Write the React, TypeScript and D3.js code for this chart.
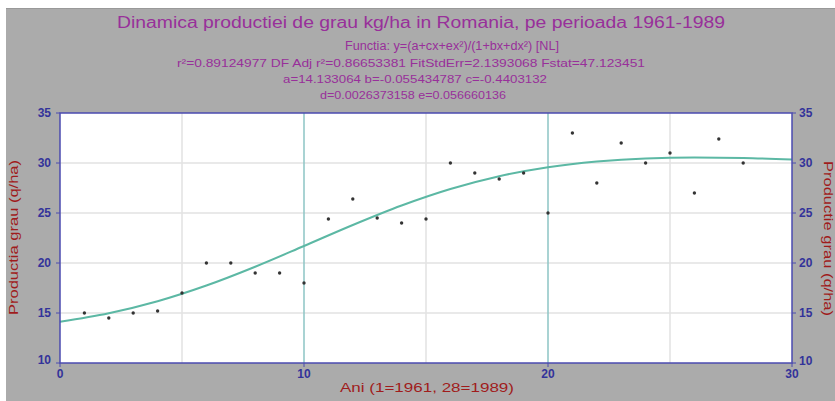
import React from "react";
import * as d3 from "d3";

// observed data (year index 1=1961 ... 28=1989), q/ha
const years = [1, 2, 3, 4, 5, 6, 7, 8, 9, 10, 11, 12, 13, 14, 15, 16, 17, 18, 19, 20, 21, 22, 23, 24, 25, 26, 27, 28];
const yields = [15.0, 14.5, 15.0, 15.2, 17.0, 20.0, 20.0, 19.0, 19.0, 18.0, 24.4, 26.4, 24.5, 24.0, 24.4, 30.0, 29.0, 28.4, 29.0, 25.0, 33.0, 28.0, 32.0, 30.0, 31.0, 27.0, 32.4, 30.0];

// fitted curve
const fitX = [0, 2, 4, 6, 8, 10, 12, 14, 16, 18, 20, 22, 24, 26, 28, 30];
const fitY = [14.13, 14.98, 16.18, 17.75, 19.63, 21.7, 23.8, 25.75, 27.4, 28.68, 29.58, 30.15, 30.46, 30.55, 30.5, 30.35];

const xTicks = [0, 10, 20, 30];
const xGrid = [5, 10, 15, 20, 25];
const yTicks = [10, 15, 20, 25, 30, 35];

const title = "Dinamica productiei de grau kg/ha in Romania, pe perioada 1961-1989";
const subLines = [
  "Functia:  y=(a+cx+ex²)/(1+bx+dx²) [NL]",
  "r²=0.89124977  DF Adj r²=0.86653381  FitStdErr=2.1393068  Fstat=47.123451",
  "a=14.133064 b=-0.055434787 c=-0.4403132",
  "d=0.0026373158 e=0.056660136",
];
// text layout (centre x, baseline y, stretched width, font size)
const subLayout = [
  { cx: 452, y: 50, len: 214, size: 12 },
  { cx: 411, y: 67, len: 468, size: 11 },
  { cx: 415, y: 83, len: 264, size: 11 },
  { cx: 413, y: 99, len: 186, size: 11 },
];

const W = 835;
const H = 401;
const margin = { top: 113, right: 43, bottom: 38, left: 60 };

export default function App() {
  const x = d3.scaleLinear().domain([0, 30]).range([margin.left, W - margin.right]);
  const y = d3.scaleLinear().domain([10, 35]).range([H - margin.bottom, margin.top]);

  const line = d3
    .line<number>()
    .x((_, i) => x(fitX[i]))
    .y((d) => y(d))
    .curve(d3.curveMonotoneX);

  const axisBlue = "#4b4bb0";
  const tickBlue = "#33339a";
  const red = "#a01c1c";
  const purple = "#98309a";
  const font = "Arial, 'Liberation Sans', sans-serif";
  const midY = (y(10) + y(35)) / 2;

  return (
    <svg width={W} height={H} style={{ position: "absolute", left: 0, top: 0 }} fontFamily={font}>
      <rect x={0} y={0} width={W} height={H} fill="#ffffff" />
      <rect x={6} y={8} width={W - 6} height={H - 8} fill="#ababab" />
      <line x1={6} x2={W} y1={8.5} y2={8.5} stroke="#999" />

      {/* titles */}
      <text x={117} y={28} fontSize={16} fill={purple} textLength={608} lengthAdjust="spacingAndGlyphs">
        {title}
      </text>
      {subLines.map((t, i) => {
        const l = subLayout[i];
        return (
          <text
            key={i}
            x={l.cx - l.len / 2}
            y={l.y}
            fontSize={l.size}
            fill={purple}
            textLength={l.len}
            lengthAdjust="spacingAndGlyphs"
          >
            {t}
          </text>
        );
      })}

      {/* plot area */}
      <rect x={x(0)} y={y(35)} width={x(30) - x(0)} height={y(10) - y(35)} fill="#ffffff" />
      {yTicks.slice(1, -1).map((t) => (
        <line key={t} x1={x(0)} x2={x(30)} y1={y(t)} y2={y(t)} stroke="#e2e2e2" strokeWidth={1.5} />
      ))}
      {xGrid.map((t) => (
        <line
          key={t}
          x1={x(t)}
          x2={x(t)}
          y1={y(10)}
          y2={y(35)}
          stroke={t % 10 === 0 ? "#8cc4c4" : "#e2e2e2"}
          strokeWidth={1.5}
        />
      ))}

      <path d={line(fitY) || ""} fill="none" stroke="#5cb8a4" strokeWidth={2} />

      {years.map((yr, i) => (
        <circle key={yr} cx={x(yr)} cy={y(yields[i])} r={1.7} fill="#333" />
      ))}

      {/* frame */}
      <rect x={x(0)} y={y(35)} width={x(30) - x(0)} height={y(10) - y(35)} fill="none" stroke={axisBlue} strokeWidth={1.5} />

      {/* y ticks left & right */}
      {yTicks.map((t) => (
        <g key={t}>
          <line x1={x(0) - 4} x2={x(0)} y1={y(t)} y2={y(t)} stroke={axisBlue} />
          <line x1={x(30)} x2={x(30) + 4} y1={y(t)} y2={y(t)} stroke={axisBlue} />
          <text x={x(0) - 9} y={y(t) + (t === 10 ? 1 : 4)} textAnchor="end" fontSize={12} fontWeight="bold" fill={tickBlue}>
            {t}
          </text>
          <text x={x(30) + 7} y={y(t) + (t === 10 ? 2 : 4)} textAnchor="start" fontSize={12} fontWeight="bold" fill={tickBlue}>
            {t}
          </text>
        </g>
      ))}
      {xTicks.map((t) => (
        <g key={t}>
          <line x1={x(t)} x2={x(t)} y1={y(10)} y2={y(10) + 4} stroke={axisBlue} />
          <text x={x(t)} y={y(10) + 15} textAnchor="middle" fontSize={12} fontWeight="bold" fill={tickBlue}>
            {t}
          </text>
        </g>
      ))}

      <text x={340} y={392} fontSize={13} fill={red} textLength={174} lengthAdjust="spacingAndGlyphs">
        Ani (1=1961, 28=1989)
      </text>
      <text
        transform={`translate(18, ${midY + 77}) rotate(-90)`}
        fontSize={13}
        fill={red}
        textLength={155}
        lengthAdjust="spacingAndGlyphs"
      >
        Productia grau (q/ha)
      </text>
      <text
        transform={`translate(824, ${midY - 77}) rotate(90)`}
        fontSize={13}
        fill={red}
        textLength={155}
        lengthAdjust="spacingAndGlyphs"
      >
        Productie grau (q/ha)
      </text>
    </svg>
  );
}
